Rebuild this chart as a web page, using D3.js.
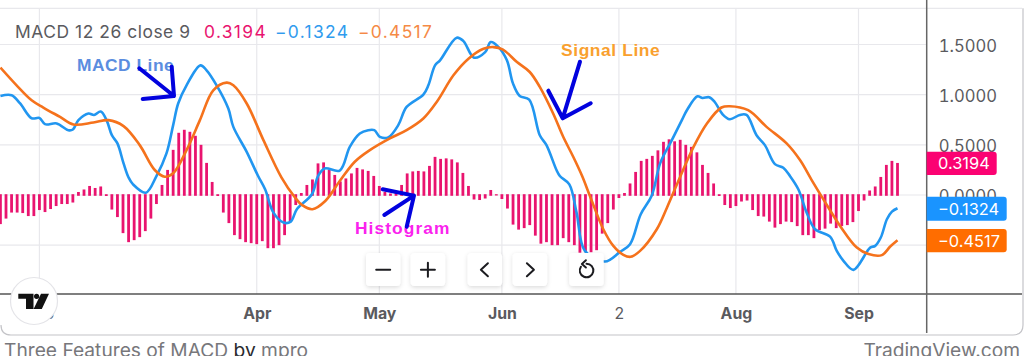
<!DOCTYPE html>
<html><head><meta charset="utf-8">
<script src="https://cdn.jsdelivr.net/npm/d3@7/dist/d3.min.js"></script>
<style>html,body{margin:0;padding:0;background:#fff;overflow:hidden}svg{display:block;font-family:Inter,"Open Sans",sans-serif}</style>
</head><body><svg id="c" width="1024" height="356"></svg>
<script>
const histogram=[-.29,-.235,-.175,-.175,-.18,-.21,-.21,-.15,-.17,-.14,-.11,-.09,-.09,-.075,.03,.055,.09,.07,.085,-.01,-.145,-.22,-.38,-.47,-.45,-.42,-.36,-.235,-.09,.1,.25,.45,.62,.65,.63,.59,.5,.32,.13,-.01,-.175,-.28,-.4,-.44,-.47,-.48,-.49,-.46,-.53,-.53,-.5,-.4,-.27,-.1,
.02,.1,.155,.315,.325,.25,.2,.135,.165,.215,.27,.255,.24,.19,.09,.03,.015,.02,.1,.215,.235,.24,.235,.29,.38,.36,.365,.355,.325,.22,.09,-.045,-.05,-.035,.05,-.005,-.04,-.135,
-.295,-.345,-.33,-.3,-.405,-.485,-.47,-.5,-.5,-.43,-.47,-.5,-.575,-.57,-.57,-.55,-.385,-.28,-.145,-.03,.02,.115,
.23,.34,.36,.39,.445,.53,.555,.535,.55,.5,.48,.425,.3,.22,.115,-.01,-.1,-.13,-.11,-.065,-.055,-.15,-.21,-.215,-.265,-.325,-.29,-.265,-.27,-.31,
-.4,-.4,-.43,-.35,-.335,-.285,-.33,-.31,-.3,-.27,-.16,-.055,.045,.085,.18,.3,.34,.3194];
const macdBar=[0,2,3.5,5.6,7,8,10.1,12.2,13,14,15.8,16.8,18,19.1,20,21,22.1,23,23.8,26.1,28,29.8,31,31.9,33.4,35.9,37,38.8,40.9,41.8,44.2,46.2,47.5,49,50.8,52.1,53.2,55.9,57,58.2,60.9,62.7,64.5,66,67.1,68.1,69.6,71.4,72.9,75.9,76.8,78,78.9,81.9,83.1,85,87,88,89.4,90.9,92,93.2,94.9,96.8,98,99.8,100.4,102.1,103.4,104.9,108.5,111.2,113,114.9,116.9,118.4,120.5,122.3,123.2,125.1,126,127.2,128.2,129.6,130.9,132.7,133.9,135.7,137.2,139,140.5,141.7,143.2,144.7,146.2,148.9,150.1,151.3,153.1,156.1,157,158,159.1,160,161];
const macdLine=[.987,.994,.915,.765,.768,.706,.713,.646,.653,.746,.812,.798,.832,.739,.596,.514,.315,.174,.106,.023,.189,.415,.696,.912,1.093,1.292,1.243,1.093,.862,.679,.43,.194,.057,-.176,-.275,-.265,-.142,.007,.189,.265,.244,.48,.613,.646,.646,.58,.574,.696,.878,1.001,1.093,1.292,1.342,1.568,1.534,1.369,1.424,1.524,1.474,1.342,1.11,.987,.951,.596,.497,.249,.189,.106,-.176,-.557,-.663,-.567,-.49,-.194,-.005,.315,.547,.746,.845,.984,.967,.974,.927,.805,.755,.798,.798,.596,.497,.308,.271,.189,.057,-.176,-.341,-.415,-.557,-.656,-.746,-.524,-.507,-.424,-.242,-.166,-.1324];
const signalBar=[0,2.9,5.6,7.7,10.7,13.1,16.7,19.4,22.1,25,27.7,29.5,31,33.4,35.8,38.2,40.6,41.8,44.2,47.2,50.4,52.9,54.1,56,58.3,60.9,63.6,66.3,69.9,72.9,75.9,78.3,81.3,84,86.7,88.5,90.2,92.7,95,96.8,99.2,101,102.8,104.4,105.8,108.2,110,111.8,113.1,114.8,117.8,119.6,122,124.4,126.8,129.4,130.9,134.2,137.5,141.1,143.5,145.6,147.7,150.7,153.7,155.8,158.2,159.7,161];
const signalLine=[1.27,1.093,.944,.872,.778,.703,.723,.746,.686,.497,.249,.182,.216,.447,.746,1.044,1.12,1.093,.912,.547,.179,-.027,-.099,-.142,-.06,.139,.331,.447,.564,.646,.762,.927,1.193,1.359,1.458,1.474,1.448,1.325,1.226,1.077,.812,.58,.381,.189,-.01,-.341,-.507,-.596,-.616,-.557,-.341,-.129,.182,.48,.713,.872,.885,.845,.679,.514,.348,.149,-.043,-.308,-.524,-.589,-.599,-.514,-.4517];
const yGrid=[1.5,1,.5,0,-.5];
const yLabels=[1.5,1,.5,0];
const xTickBars=[7,46,68,90,111,132,154];
const xTickLabels=["Feb","Apr","May","Jun","2","Aug","Sep"];
const legendTitle="MACD 12 26 close 9";
const lastValues=[0.3194,-0.1324,-0.4517];

const GRID="#e8e8ec",TXT="#5a5a5e",PINK="#e9146f",BLUE="#2196f0",ORANGE="#f5721c";
const svg=d3.select("#c");
const x=d3.scaleLinear().domain([0,161]).range([.43,897.5]);
const y=d3.scaleLinear().domain([0,1.5]).range([195,44.5]);
const fmt=v=>(v<0?"\u2212":"")+Math.abs(v).toFixed(4);

// card
svg.append("path").attr("d","M1 325Q1 335 11 335H1013Q1023 335 1023 325V8.3").attr("fill","none").attr("stroke","#c4c4c8").attr("stroke-width",1.2);
// grid
const g=svg.append("g");
g.selectAll("line.h").data([...yGrid,1.86]).join("line").attr("x1",0).attr("x2",d=>d===1.86?1022:927).attr("y1",d=>y(d)).attr("y2",d=>y(d)).attr("stroke",GRID).attr("stroke-width",1.2);
g.selectAll("line.v").data(xTickBars).join("line").attr("x1",d=>x(d)).attr("x2",d=>x(d)).attr("y1",8).attr("y2",294).attr("stroke",GRID).attr("stroke-width",1.2);
// histogram
svg.append("g").selectAll("rect").data(histogram).join("rect")
 .attr("x",(d,i)=>x(i)-1.4).attr("width",2.8)
 .attr("y",d=>Math.min(y(d),y(0))-(d>0?0:.8)).attr("height",d=>Math.abs(y(d)-y(0))+.8).attr("fill",PINK);
// lines
const line=d3.line().x(d=>x(d[0])).y(d=>y(d[1])).curve(d3.curveCatmullRom.alpha(.5));
svg.append("path").datum(macdBar.map((b,i)=>[b,macdLine[i]])).attr("d",line).attr("fill","none").attr("stroke",BLUE).attr("stroke-width",2.6).attr("stroke-linejoin","round");
svg.append("path").datum(signalBar.map((b,i)=>[b,signalLine[i]])).attr("d",line).attr("fill","none").attr("stroke",ORANGE).attr("stroke-width",2.6).attr("stroke-linejoin","round");
// axes
const ya=svg.append("g").attr("transform","translate(926.7,1.6)").call(d3.axisRight(y).tickValues(yLabels).tickSize(0).tickPadding(12).tickFormat(fmt));
ya.select(".domain").remove();
ya.selectAll("text").attr("font-size",16.6).attr("fill",TXT).attr("font-family","Inter").style("font-feature-settings","'tnum'");
const xa=svg.append("g").attr("transform","translate(0,294)").call(d3.axisBottom(x).tickValues(xTickBars).tickSize(0).tickPadding(14).tickFormat((d,i)=>xTickLabels[i]));
xa.select(".domain").remove();
xa.selectAll("text").attr("font-size",15.8).attr("fill",TXT).attr("font-family","Inter").attr("font-weight",(d,i)=>xTickLabels[i]==="2"?400:700);
svg.append("line").attr("x1",0).attr("x2",1022).attr("y1",294).attr("y2",294).attr("stroke","#555").attr("stroke-width",1.5);
svg.append("line").attr("x1",926.7).attr("x2",926.7).attr("y1",0).attr("y2",333).attr("stroke","#666").attr("stroke-width",1.5);

// legend
const lg=svg.append("text").attr("y",38).attr("font-size",17.4).attr("letter-spacing",.55).attr("fill",TXT);
lg.append("tspan").attr("x",15).text(legendTitle);
[[204,PINK],[275,"#2f9bee"],[358,"#f58a45"]].forEach((p,i)=>lg.append("tspan").attr("x",p[0]).attr("fill",p[1]).attr("letter-spacing",1.35).text(fmt(lastValues[i])));

// last value labels
const tags=[[151.7,23.3,70,"#fb0272"],[196.7,24,80,"#1a94ff"],[229,23.3,80,"#ff6d00"]];
tags.forEach((t,i)=>{
 const [top,h,w,c]=[t[0],t[1],t[2],t[3]];
 svg.append("path").attr("d",`M926.7 ${top}H${926.7+w-3}q3 0 3 3V${top+h-3}q0 3 -3 3H926.7Z`).attr("fill",c);
 svg.append("text").attr("x",938).attr("y",top+h/2+6).attr("font-size",16.4).attr("fill","#fff").text(fmt(lastValues[i]));
});

// annotations
function note(t,xx,yy,c,ls){svg.append("text").attr("x",xx).attr("y",yy).attr("font-size",17.4).attr("letter-spacing",ls).attr("font-weight",700).attr("fill",c).attr("font-family","Liberation Sans, Arimo, sans-serif").text(t);}
note("MACD Line",77,71,"#5b8de0",.5);
note("Signal Line",561,56,"#f9a02e",.6);
note("Histogram",355,234,"#fa22ee",1.05);
const arrows=["M139.3 68.3L174 96M171.7 66.7L174 96L142.7 99","M580 61.7L562.7 118.3M548.3 90.7L562.7 118.3L590.7 103.3","M384.3 215L414 195.6M382.7 189.3L414 195.6L406.7 226.7"];
svg.append("g").selectAll("path").data(arrows).join("path").attr("d",d=>d).attr("fill","none").attr("stroke","#0202de").attr("stroke-width",4).attr("stroke-linecap","round").attr("stroke-linejoin","round");

// controls
const defs=svg.append("defs");
defs.append("filter").attr("id","sh").attr("x","-30%").attr("y","-30%").attr("width","160%").attr("height","160%").append("feDropShadow").attr("dx",0).attr("dy",1.5).attr("stdDeviation",2.2).attr("flood-color","#000").attr("flood-opacity",.14);
const btnLeft=[366,410.7,467.7,512.7,569.3];
const icons=["M-7 0H7","M-7 0H7M0 -7V7","M3 -6.5L-4 0L3 6.5","M-3 -6.5L4 0L-3 6.5","M-5.6 -3.8A6.8 6.8 0 1 0 0 -6.8M-0.6 -10.3L-4.6 -6.6L-0.6 -3"];
btnLeft.forEach((l,i)=>{
 svg.append("rect").attr("x",l).attr("y",253).attr("width",34.4).attr("height",33).attr("rx",4).attr("fill","#fff").attr("filter","url(#sh)");
 svg.append("path").attr("transform",`translate(${l+17.2},${i===4?270.5:269.8})`).attr("d",icons[i]).attr("fill","none").attr("stroke","#1c1c20").attr("stroke-width",2).attr("stroke-linecap","round").attr("stroke-linejoin","round");
});

// logo
svg.append("circle").attr("cx",34).attr("cy",301).attr("r",23.5).attr("fill","#fff").attr("stroke","#e4e4e8").attr("stroke-width",1.2);
svg.append("path").attr("transform","translate(18,293)").attr("fill","#111")
 .attr("d","M0.3 0.7H15.5V16H8V5.8H0.3ZM16 3.3a2.6 2.6 0 1 1 5.2 0a2.6 2.6 0 1 1 -5.2 0ZM23 0.7H31L23.8 16H15.6Z");

// footer
const ft=svg.append("text").attr("y",357).attr("font-size",19.2).attr("fill","#77777b");
ft.append("tspan").attr("x",4).text("Three Features of MACD ");
ft.append("tspan").attr("fill","#2a2a2e").text("by");
ft.append("tspan").text(" mpro");
svg.append("text").attr("x",1020).attr("y",357).attr("text-anchor","end").attr("font-size",19.2).attr("fill","#77777b").text("TradingView.com");
</script></body></html>
